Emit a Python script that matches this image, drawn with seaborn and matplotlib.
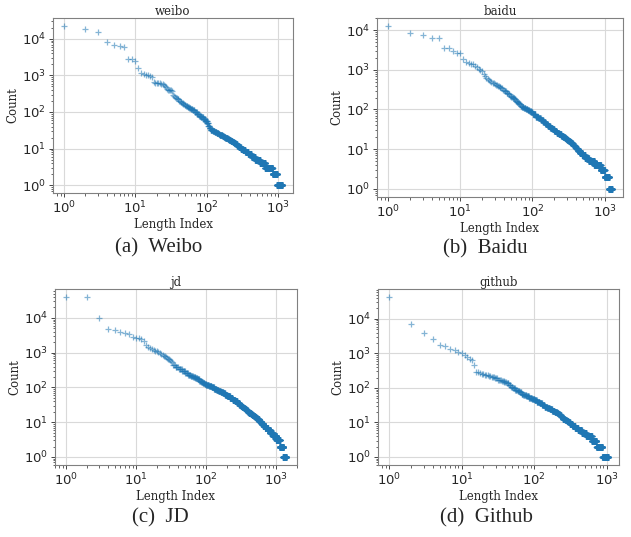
"""Rank-frequency plots of length indices for four datasets (2x2 grid with captions)."""

import matplotlib
matplotlib.use("Agg")
import matplotlib.pyplot as plt
import numpy as np
import seaborn as sns

# Each series: count value and the last rank that has that count (ranks start at 1).
weibo_counts = [22600, 18700, 15200, 8100, 6700, 6300, 5900, 2900, 2800, 2500, 1580, 1200,
                1100, 1060, 1000, 940, 880, 650, 640, 630, 620, 610, 600, 590, 540, 500, 470,
                430, 410, 400, 395, 390, 380, 300, 280, 260, 240, 220, 205, 190, 175, 165, 155,
                145, 138, 130, 120, 110, 100, 90, 80, 72, 64, 56, 50, 42, 36, 33, 32, 31, 30,
                29, 28, 27, 26, 25, 24, 23, 22, 21, 20, 19, 18, 17, 16, 15, 14, 13, 12, 11, 10,
                9, 8, 7, 6, 5, 4, 3, 2, 1]
weibo_upto = [1, 2, 3, 4, 5, 6, 7, 8, 9, 10, 11, 12,
              13, 14, 15, 16, 17, 18, 19, 20, 21, 22, 23, 24, 25, 26, 27,
              28, 29, 30, 31, 32, 33, 34, 35, 36, 38, 40, 42, 44, 46, 48, 50,
              53, 56, 59, 63, 67, 72, 77, 82, 88, 94, 100, 104, 108, 112, 116, 120, 124, 128,
              132, 136, 140, 145, 150, 157, 164, 172, 180, 188, 195, 203, 215, 228, 240, 252, 265, 280, 298, 318,
              345, 378, 420, 475, 555, 655, 830, 960, 1130]

baidu_counts = [12600, 8700, 7400, 6400, 6200, 3550, 3500, 2950, 2650, 2600, 1900, 1580,
                1450, 1400, 1370, 1230, 1150, 1070, 1000, 930, 800, 700, 630, 580, 540, 520,
                500, 470, 455, 445, 420, 400, 370, 340, 310, 285, 265, 245, 225, 205, 195, 180,
                167, 155, 145, 135, 125, 115, 110, 103, 97, 90, 85, 75, 66, 60, 54, 48, 43, 39,
                35, 32, 29, 26, 24, 22, 20, 19, 18, 17, 16, 15, 14, 13, 12, 11, 10, 9, 8, 7,
                6, 5, 4, 3, 2, 1]
baidu_upto = [1, 2, 3, 4, 5, 6, 7, 8, 9, 10, 11, 12,
              13, 14, 15, 16, 17, 18, 19, 20, 21, 22, 23, 24, 25, 26,
              27, 28, 29, 30, 32, 34, 36, 38, 40, 43, 46, 48, 50, 53, 56, 58,
              60, 63, 66, 68, 70, 75, 80, 85, 90, 95, 100, 110, 120, 130, 140, 150, 162, 175,
              188, 200, 215, 232, 250, 265, 282, 292, 302, 315, 330, 345, 360, 378, 395, 410, 430, 455, 490, 535,
              600, 720, 880, 1000, 1150, 1260]

jd_counts = [40000, 39000, 9800, 4800, 4400, 3900, 3700, 3550, 2770, 2650, 2600, 2400, 2240,
             1700, 1480, 1400, 1300, 1230, 1150, 1100, 1030, 990, 920, 870, 830, 780, 740,
             710, 680, 660, 600, 570, 540, 455, 430, 390, 330, 290, 260, 235, 215, 200, 185,
             170, 157, 145, 137, 129, 118, 108, 100, 93, 87, 80, 74, 68, 62, 55, 49, 44, 40,
             35, 32, 30, 28, 26, 24, 22, 20, 19, 18, 17, 16, 15, 14, 13, 12, 11, 10, 9, 8,
             7, 6, 5, 4, 3, 2, 1]
jd_upto = [1, 2, 3, 4, 5, 6, 7, 8, 9, 10, 11, 12, 13,
           14, 15, 16, 17, 18, 19, 20, 21, 22, 23, 24, 25, 26, 27,
           28, 29, 30, 31, 32, 33, 34, 36, 40, 45, 50, 55, 60, 65, 70, 75,
           80, 85, 90, 95, 100, 110, 120, 130, 140, 150, 162, 175, 187, 200, 220, 240, 260, 280,
           300, 315, 330, 345, 360, 378, 395, 410, 425, 440, 460, 480, 500, 522, 545, 570, 595, 625, 665, 710,
           765, 830, 910, 1020, 1140, 1280, 1400]

github_counts = [43000, 7300, 3800, 2560, 1700, 1630, 1310, 1260, 1100, 1000, 880, 810, 710,
                 650, 455, 295, 280, 270, 260, 250, 240, 230, 220, 205, 190, 175, 160, 150,
                 140, 125, 110, 100, 90, 83, 76, 69, 63, 57, 52, 47, 44, 40, 36, 32, 29, 26,
                 24, 22, 20, 19, 18, 16, 14, 13, 12, 11, 10, 9, 8, 7, 6, 5, 4, 3, 2, 1]
github_upto = [1, 2, 3, 4, 5, 6, 7, 8, 9, 10, 11, 12, 13,
               14, 15, 16, 17, 18, 19, 20, 22, 23, 25, 28, 31, 35, 38, 41,
               44, 47, 50, 54, 58, 62, 66, 70, 77, 84, 92, 100, 108, 118, 128, 138, 150, 163,
               176, 190, 205, 215, 225, 235, 245, 265, 280, 295, 310, 335, 365, 400, 450, 520, 620, 720, 870, 1040]

titles = ["weibo", "baidu", "jd", "github"]
captions = ["(a)  Weibo", "(b)  Baidu", "(c)  JD", "(d)  Github"]

W, H = 631, 537
# axes boxes in pixels: left, top, right, bottom
BOXES = [(53, 18, 293, 193), (377, 18, 623, 197), (55, 289, 297, 465), (378, 289, 619, 465)]
CAPTION_XY = [(159, 248), (485, 249), (160, 518), (486, 518)]

sns.set_style("whitegrid", {
    "axes.edgecolor": ".5",
    "grid.color": ".85",
    "xtick.bottom": True,
    "ytick.left": True,
})
plt.rcParams["font.family"] = ["DejaVu Sans"]
plt.rcParams.update({
    "axes.linewidth": 0.8,
    "grid.linewidth": 0.8,
    "xtick.major.size": 3, "ytick.major.size": 3,
    "xtick.minor.size": 1.8, "ytick.minor.size": 1.8,
    "xtick.major.width": 0.6, "ytick.major.width": 0.6,
    "xtick.minor.width": 0.5, "ytick.minor.width": 0.5,
    "xtick.major.pad": 2, "ytick.major.pad": 2,
    "xtick.labelsize": 9.5, "ytick.labelsize": 9.5,
})

series = [(weibo_counts, weibo_upto), (baidu_counts, baidu_upto),
          (jd_counts, jd_upto), (github_counts, github_upto)]

fig = plt.figure(figsize=(W / 100, H / 100), dpi=100)
for (counts, upto), title, cap, (l, t, r, b), (cx, cy) in zip(series, titles, captions, BOXES, CAPTION_XY):
    ax = fig.add_axes([l / W, 1 - b / H, (r - l) / W, (b - t) / H])
    y = np.repeat(counts, np.diff([0] + upto))
    x = np.arange(1, len(y) + 1)
    sns.scatterplot(x=x, y=y, marker="+", s=20, linewidth=0.9, color="#1f77b4",
                    alpha=0.55, ax=ax)
    ax.set(xscale="log", yscale="log")
    ax.autoscale_view()
    ax.set_title(title, family="DejaVu Serif", fontsize=8.5, pad=2.5)
    ax.set_xlabel("Length Index", family="DejaVu Serif", fontsize=8.5, labelpad=1)
    ax.set_ylabel("Count", family="DejaVu Serif", fontsize=8.5, labelpad=2)
    fig.text(cx / W, 1 - cy / H, cap, ha="center", va="center",
             family="Liberation Serif", fontsize=15)

fig.savefig("out.png", dpi=100)
